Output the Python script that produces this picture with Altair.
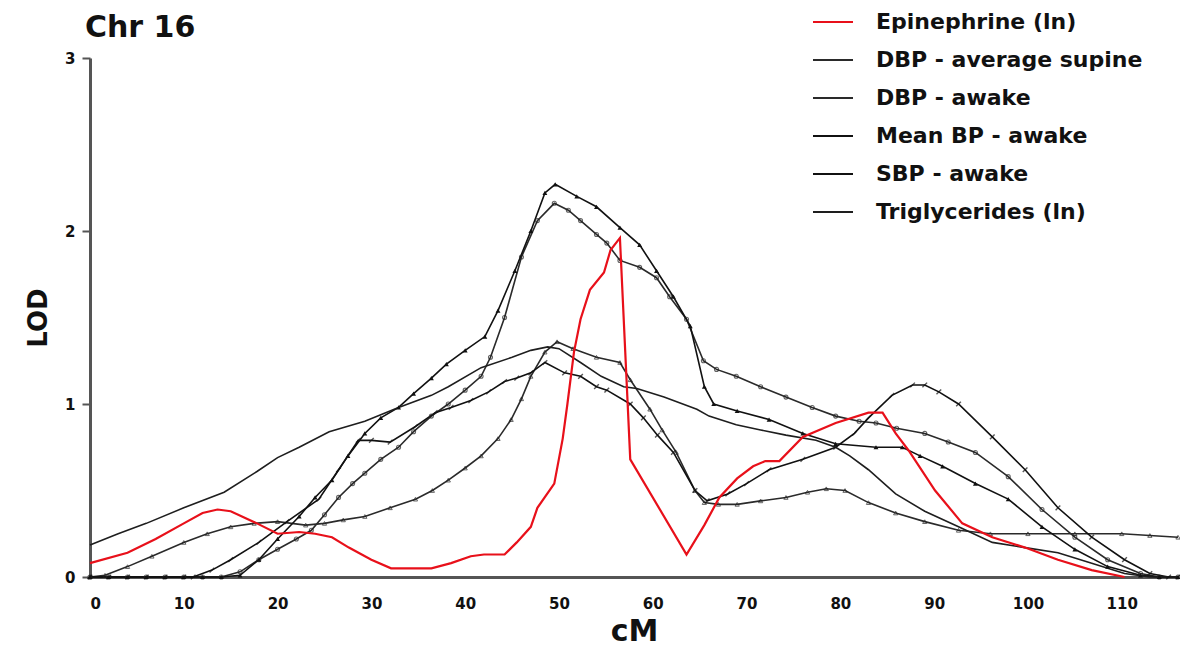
import altair as alt
import pandas as pd

# ---- data (cM, LOD) ----
EPI_CM = [0, 4, 7, 10, 12, 13.6, 15, 17.8, 20, 22.3, 24, 25.8, 27.6, 30, 32.1, 36.4, 38.5, 40.6, 42, 44.2,
          45.5, 47, 47.7, 49.5, 50.4, 50.9, 51.6, 52.3, 53.3, 54.8, 55.5, 56.5, 57.6, 63.6, 65.5, 67.1, 69, 70.7,
          72, 73.5, 76, 79.5, 83, 84.5, 85.9, 87.3, 90.1, 93, 96.2, 99.7, 103.2, 106.8, 110.3]
EPI_LOD = [0.08, 0.14, 0.22, 0.31, 0.37, 0.39, 0.38, 0.31, 0.25, 0.26, 0.25, 0.23, 0.17, 0.1, 0.05, 0.05, 0.08,
           0.12, 0.13, 0.13, 0.2, 0.29, 0.4, 0.54, 0.8, 1.0, 1.3, 1.49, 1.66, 1.76, 1.89, 1.96, 0.68, 0.13, 0.3,
           0.46, 0.57, 0.64, 0.67, 0.67, 0.81, 0.89, 0.95, 0.95, 0.83, 0.73, 0.5, 0.31, 0.23, 0.17, 0.1, 0.04, 0.0]

SUP_CM = [0, 1.6, 4, 6.6, 10, 12.5, 15, 17.5, 20, 23, 25, 27, 29.3, 32, 34.7, 36.5, 38.2, 40, 41.7, 43.5,
          44.9, 46, 47, 48.5, 49.8, 51.5, 54, 56.5, 57.6, 59.7, 61, 62.5, 64.5, 65.5, 67, 69, 71.5, 74.2, 76.5,
          78.5, 80.5, 83, 85.9, 89, 92.6, 96, 100, 105, 110, 113, 116]
SUP_LOD = [0, 0.01, 0.06, 0.12, 0.2, 0.25, 0.29, 0.31, 0.32, 0.3, 0.31, 0.33, 0.35, 0.4, 0.45, 0.5, 0.56, 0.63,
           0.7, 0.8, 0.91, 1.03, 1.16, 1.3, 1.36, 1.32, 1.27, 1.24, 1.14, 0.97, 0.85, 0.72, 0.5, 0.43, 0.42, 0.42,
           0.44, 0.46, 0.49, 0.51, 0.5, 0.43, 0.37, 0.32, 0.27, 0.25, 0.25, 0.25, 0.25, 0.24, 0.23]

DBPA_CM = [0, 2, 4, 6, 8, 10, 12, 14, 16, 18, 20, 22, 23.6, 25, 26.5, 28, 29.3, 31, 32.9, 34.5, 36.4, 38.2,
           40, 41.7, 42.7, 44.2, 46, 47.7, 49.5, 51, 52.3, 54, 55.1, 56.5, 58.6, 60.4, 61.8, 63.6, 65.4, 66.8,
           68.9, 71.5, 74.2, 77, 79.5, 82, 83.8, 86, 89, 91.5, 94.4, 97.9, 101.5, 105, 108.5, 112, 114, 116]
DBPA_LOD = [0, 0, 0, 0, 0, 0, 0, 0, 0.03, 0.1, 0.16, 0.22, 0.27, 0.36, 0.46, 0.54, 0.6, 0.68, 0.75, 0.84, 0.93,
            1.0, 1.08, 1.16, 1.27, 1.5, 1.85, 2.06, 2.16, 2.12, 2.06, 1.98, 1.93, 1.83, 1.79, 1.73, 1.62, 1.49,
            1.25, 1.2, 1.16, 1.1, 1.04, 0.98, 0.93, 0.9, 0.89, 0.86, 0.83, 0.78, 0.72, 0.58, 0.39, 0.23, 0.1,
            0.02, 0, 0]

MBP_CM = [0, 2, 4, 6, 8, 10, 12, 14, 16, 18, 20, 22.3, 24, 25.8, 27.5, 29.3, 31, 32.9, 34.5, 36.4, 38, 40,
          42.1, 43.5, 45.3, 47, 48.5, 49.6, 51.9, 54, 56.5, 58.6, 60.4, 62.2, 64, 65.5, 66.5, 69, 72.4, 76,
          79.5, 83.8, 86.6, 88.5, 90.9, 94.4, 97.9, 101.5, 105, 108.5, 112, 114, 116]
MBP_LOD = [0, 0, 0, 0, 0, 0, 0, 0, 0.01, 0.1, 0.22, 0.35, 0.46, 0.56, 0.7, 0.83, 0.92, 0.98, 1.06, 1.15, 1.23,
           1.31, 1.39, 1.54, 1.77, 2.0, 2.22, 2.27, 2.2, 2.14, 2.02, 1.92, 1.77, 1.62, 1.45, 1.1, 1.0, 0.96,
           0.91, 0.83, 0.77, 0.75, 0.75, 0.7, 0.64, 0.54, 0.45, 0.29, 0.16, 0.06, 0.01, 0, 0]

SBP_CM = [0, 2, 4, 6, 8, 10, 11, 13, 15, 18, 21, 24.4, 26.5, 28.6, 30, 32, 34.7, 36.8, 38.5, 40.6, 42.5,
          44.2, 45.5, 47, 48.5, 50.6, 52.3, 54, 55.1, 57.6, 59, 60.5, 62.2, 64.5, 65.8, 68, 70, 72.4, 76,
          79.5, 81.5, 83, 85.5, 87.7, 89, 90.5, 92.6, 96.2, 99.7, 103.2, 106.8, 110.3, 113, 115, 116]
SBP_LOD = [0, 0, 0, 0, 0, 0, 0, 0.04, 0.1, 0.2, 0.32, 0.45, 0.62, 0.79, 0.79, 0.78, 0.87, 0.95, 0.98, 1.02,
           1.07, 1.13, 1.15, 1.18, 1.24, 1.18, 1.16, 1.1, 1.08, 1.0, 0.92, 0.82, 0.72, 0.5, 0.44, 0.48, 0.54,
           0.62, 0.68, 0.75, 0.83, 0.92, 1.05, 1.11, 1.11, 1.07, 1.0, 0.81, 0.62, 0.4, 0.23, 0.1, 0.02, 0, 0]

TG_CM = [0, 3, 6, 10, 14.3, 17.8, 20, 22.3, 25.5, 29.3, 32.9, 36.4, 38.2, 41.7, 45, 47, 48.8, 50, 52.3, 54.5,
         56.9, 58.3, 61.2, 64.7, 66, 68.9, 71.5, 74.2, 77.4, 79.5, 81, 83, 85.9, 89, 92.6, 96.2, 99.7, 103.2,
         106.8, 110.3, 113, 116]
TG_LOD = [0.185, 0.25, 0.31, 0.4, 0.49, 0.61, 0.69, 0.75, 0.84, 0.9, 0.98, 1.05, 1.1, 1.21, 1.27, 1.31, 1.33,
          1.32, 1.24, 1.16, 1.1, 1.09, 1.04, 0.97, 0.93, 0.88, 0.85, 0.82, 0.79, 0.75, 0.7, 0.62, 0.48, 0.38,
          0.29, 0.2, 0.17, 0.14, 0.08, 0.02, 0, 0]

SERIES = ["Epinephrine (ln)", "DBP - average supine", "DBP - awake", "Mean BP - awake", "SBP - awake",
          "Triglycerides (ln)"]
COLORS = ["#e8101a", "#2a2a2a", "#2a2a2a", "#111111", "#111111", "#1e1e1e"]
X_TICKS = [0, 10, 20, 30, 40, 50, 60, 70, 80, 90, 100, 110]
Y_TICKS = [0, 1, 2, 3]

pairs = [(EPI_CM, EPI_LOD), (SUP_CM, SUP_LOD), (DBPA_CM, DBPA_LOD), (MBP_CM, MBP_LOD),
         (SBP_CM, SBP_LOD), (TG_CM, TG_LOD)]
rows = []
for name, (xs, ys) in zip(SERIES, pairs):
    for xv, yv in zip(xs, ys):
        rows.append({"cM": xv, "LOD": yv, "series": name})
df = pd.DataFrame(rows)

FONT = "DejaVu Sans"

x_enc = alt.X("cM:Q", scale=alt.Scale(domain=[0, 116], nice=False),
              axis=alt.Axis(values=X_TICKS, title="cM", tickSize=0, labelPadding=19,
                            labelFontSize=15, labelFontWeight="bold", titleFontSize=30,
                            titleFontWeight="bold", titleY=63, titleBaseline="alphabetic",
                            domainColor="#555555", domainWidth=3, grid=False,
                            labelFont=FONT, titleFont=FONT, labelColor="#111", titleColor="#111"))
y_enc = alt.Y("LOD:Q", scale=alt.Scale(domain=[0, 3], nice=False),
              axis=alt.Axis(values=Y_TICKS, format="d", title="LOD", tickSize=8, tickWidth=2,
                            tickColor="#555555", labelPadding=7, labelFontSize=15,
                            labelFontWeight="bold", titleFontSize=26, titleFontWeight="bold",
                            titleX=-44, titleBaseline="alphabetic", domainColor="#555555",
                            domainWidth=3, grid=False, labelFont=FONT, titleFont=FONT,
                            labelColor="#111", titleColor="#111"))

color_enc = alt.Color("series:N", scale=alt.Scale(domain=SERIES, range=COLORS),
                      legend=alt.Legend(title=None, orient="none", legendX=722, legendY=-57,
                                        symbolType="stroke", symbolSize=1600, symbolStrokeWidth=2,
                                        labelFontSize=22, labelFontWeight="bold", labelFont=FONT,
                                        labelColor="#111", labelOffset=22, rowPadding=6,
                                        labelLimit=400))

black_lines = alt.Chart(df).transform_filter(alt.datum.series != SERIES[0]).mark_line(
    strokeWidth=1.6).encode(x=x_enc, y=y_enc, color=color_enc)
red_line = alt.Chart(df).transform_filter(alt.datum.series == SERIES[0]).mark_line(
    strokeWidth=2.2).encode(x="cM:Q", y="LOD:Q", color=color_enc)


def pts(name, **kw):
    return alt.Chart(df).transform_filter(alt.datum.series == name).mark_point(**kw).encode(
        x="cM:Q", y="LOD:Q")


p_sup = pts(SERIES[1], shape="triangle-up", filled=False, size=18, color="#222", strokeWidth=1)
p_dbpa = pts(SERIES[2], shape="circle", filled=False, size=16, color="#222", strokeWidth=1.1)
p_mbp = pts(SERIES[3], shape="triangle-up", filled=True, size=24, color="#111", opacity=1)
p_sbp = pts(SERIES[4], shape="M-1,1L1,-1", filled=False, size=22, color="#111", strokeWidth=1.4)

chart = alt.layer(black_lines, p_sup, p_dbpa, p_mbp, p_sbp, red_line).properties(
    width=1088,
    height=519,
    title=alt.Title("Chr 16", anchor="start", fontSize=30, fontWeight="bold", font=FONT,
                    color="#111", offset=-66, dx=60, baseline="alphabetic"),
    padding={"left": 82, "top": 50, "right": 2, "bottom": 72},
    autosize="none",
).configure_view(stroke=None)

chart.save("out.html", embed_options={"renderer": "svg", "actions": False})
